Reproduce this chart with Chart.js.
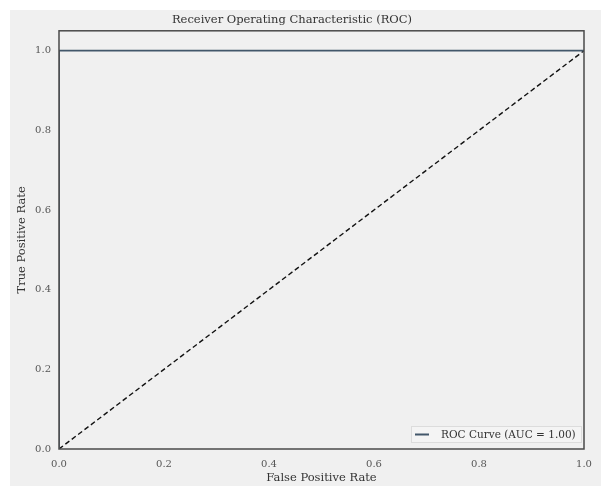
<!DOCTYPE html>
<html>
<head>
<meta charset="utf-8">
<script src="https://cdn.jsdelivr.net/npm/chart.js@4.4.0/dist/chart.umd.min.js"></script>
<style>
  html, body { margin: 0; padding: 0; background: #fff; }
  #wrap { width: 601px; height: 486px; }
</style>
</head>
<body>
<div id="wrap"><canvas id="roc" width="601" height="486"></canvas></div>
<script>
// ROC curve points
const fpr = [0.0, 0.0, 1.0];
const tpr = [0.0, 1.0, 1.0];
// chance diagonal
const diagX = [0.0, 1.0];
const diagY = [0.0, 1.0];
const aucLabel = 'ROC Curve (AUC = 1.00)';

const FONT = '"DejaVu Serif", "Liberation Serif", serif';

const toPoints = (xs, ys) => xs.map((x, i) => ({ x: x, y: ys[i] }));

// grey figure background
const bgPlugin = {
  id: 'bg',
  beforeDraw(chart) {
    const ctx = chart.ctx;
    ctx.save();
    ctx.fillStyle = '#f0f0f0';
    ctx.fillRect(10, 10, chart.width - 10, chart.height - 10);
    ctx.restore();
  }
};

// frame around the axes + legend box in lower right
const framePlugin = {
  id: 'frame',
  afterDraw(chart) {
    const { ctx, chartArea: a } = chart;
    ctx.save();
    ctx.strokeStyle = '#4a4a4a';
    ctx.lineWidth = 1.5;
    ctx.strokeRect(a.left, a.top, a.right - a.left, a.bottom - a.top);

    // legend
    const ds = chart.data.datasets[0];
    const w = 170, h = 16;
    const x = a.right - 3 - w, y = a.bottom - 7 - h;
    ctx.fillStyle = '#f4f4f4';
    ctx.fillRect(x, y, w, h);
    ctx.strokeStyle = '#dcdcdc';
    ctx.lineWidth = 1;
    ctx.strokeRect(x + 0.5, y + 0.5, w, h);
    ctx.strokeStyle = ds.borderColor;
    ctx.lineWidth = 2;
    ctx.beginPath();
    ctx.moveTo(x + 4, y + h / 2 + 0.5);
    ctx.lineTo(x + 18, y + h / 2 + 0.5);
    ctx.stroke();
    ctx.fillStyle = '#333';
    ctx.font = '10.5px ' + FONT;
    ctx.textBaseline = 'middle';
    ctx.fillText(ds.label, x + 30, y + h / 2 + 1);
    ctx.restore();
  }
};

new Chart(document.getElementById('roc'), {
  type: 'scatter',
  data: {
    datasets: [
      {
        label: aucLabel,
        data: toPoints(fpr, tpr),
        showLine: true,
        borderColor: '#42576a',
        borderWidth: 1.8,
        pointRadius: 0,
        fill: false,
        tension: 0
      },
      {
        label: 'chance',
        data: toPoints(diagX, diagY),
        showLine: true,
        borderColor: '#111',
        borderWidth: 1.4,
        borderDash: [5, 3],
        pointRadius: 0,
        fill: false
      }
    ]
  },
  options: {
    responsive: false,
    animation: false,
    layout: { padding: { left: 0, right: 17, top: 0, bottom: 0 } },
    plugins: {
      legend: { display: false },
      tooltip: { enabled: false },
      title: {
        display: true,
        text: 'Receiver Operating Characteristic (ROC)',
        color: '#333',
        font: { family: FONT, size: 11.5, weight: 'normal' },
        padding: { top: 13, bottom: 4 }
      }
    },
    scales: {
      x: {
        type: 'linear',
        min: 0,
        max: 1,
        grid: { display: false, drawTicks: false },
        border: { display: false },
        ticks: {
          stepSize: 0.2,
          padding: 9,
          color: '#555',
          font: { family: FONT, size: 10 },
          callback: v => v.toFixed(1)
        },
        title: {
          display: true,
          text: 'False Positive Rate',
          color: '#333',
          font: { family: FONT, size: 11.5 },
          padding: { top: 0, bottom: 1 }
        },
        afterFit: s => { s.height = 37; }
      },
      y: {
        type: 'linear',
        min: 0,
        max: 1.05,
        grid: { display: false, drawTicks: false },
        border: { display: false },
        ticks: {
          stepSize: 0.2,
          includeBounds: false,
          padding: 8,
          color: '#555',
          font: { family: FONT, size: 10 },
          callback: v => v.toFixed(1)
        },
        title: {
          display: true,
          text: 'True Positive Rate',
          color: '#333',
          font: { family: FONT, size: 11.5 },
          padding: { top: 15, bottom: 4 }
        },
        afterFit: s => { s.width = 59; }
      }
    }
  },
  plugins: [bgPlugin, framePlugin]
});
</script>
</body>
</html>
